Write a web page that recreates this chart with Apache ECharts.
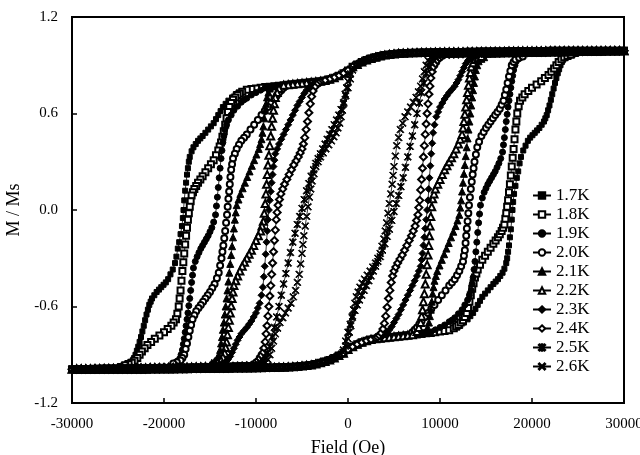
<!DOCTYPE html>
<html>
<head>
<meta charset="utf-8">
<script src="https://cdn.jsdelivr.net/npm/echarts@6/dist/echarts.min.js"></script>
<style>
  html, body { margin: 0; padding: 0; background: #fff; }
  #chart { width: 640px; height: 455px; }
</style>
</head>
<body>
<div id="chart"></div>
<script>
// temperatures shown in the legend
var temps = ["1.7K", "1.8K", "1.9K", "2.0K", "2.1K", "2.2K", "2.3K", "2.4K", "2.5K", "2.6K"];

// descending branch, shared part near positive saturation  [field Oe, M/Ms]
var descTop = [
  [30000, 0.99], [29500, 0.99], [29000, 0.99], [28500, 0.99], [28000, 0.99], [27500, 0.99],
  [27000, 0.99], [26500, 0.99], [26000, 0.99], [25500, 0.99], [25000, 0.99], [24500, 0.99],
  [24000, 0.99], [23500, 0.99], [23000, 0.99], [22500, 0.99], [22000, 0.99], [21500, 0.989],
  [21000, 0.989], [20500, 0.989], [20000, 0.988], [19500, 0.988], [19000, 0.988], [18500, 0.987],
  [18000, 0.987], [17500, 0.987], [17000, 0.986], [16500, 0.986], [16000, 0.986], [15500, 0.985],
  [15000, 0.985], [14500, 0.985], [14000, 0.984], [13500, 0.984], [13000, 0.984], [12500, 0.983],
  [12000, 0.983], [11500, 0.983], [11000, 0.982], [10500, 0.982], [10000, 0.981], [9500, 0.981],
  [9000, 0.98], [8500, 0.98], [8000, 0.979], [7500, 0.978], [7000, 0.977], [6500, 0.976],
  [6000, 0.975], [5500, 0.973], [5000, 0.97], [4500, 0.967], [4000, 0.963], [3500, 0.957],
  [3000, 0.95], [2500, 0.942], [2000, 0.932], [1500, 0.92], [1000, 0.905]
];

// shared step through zero field (1.7K - 2.4K)
var descMid = [
  [500, 0.89], [0, 0.868], [-500, 0.85], [-1000, 0.835], [-1500, 0.823], [-2000, 0.813], [-2500, 0.805]
];

// shared plateau before each curve drops
var descPlat = [
  [-3000, 0.8], [-3500, 0.797], [-4000, 0.794], [-4500, 0.791], [-5000, 0.788], [-5500, 0.785],
  [-6000, 0.782], [-6500, 0.779], [-7000, 0.776], [-7500, 0.773], [-8000, 0.77], [-8500, 0.767],
  [-9000, 0.764], [-9500, 0.76], [-10000, 0.756], [-10500, 0.752], [-11000, 0.747]
];

// shared tail near negative saturation
var descBottom = [
  [-9500, -0.962], [-10000, -0.965], [-10500, -0.967], [-11000, -0.968], [-11500, -0.969],
  [-12000, -0.97], [-12500, -0.971], [-13000, -0.972], [-13500, -0.972], [-14000, -0.973],
  [-14500, -0.974], [-15000, -0.974], [-15500, -0.975], [-16000, -0.976], [-16500, -0.976],
  [-17000, -0.977], [-17500, -0.977], [-18000, -0.978], [-18500, -0.978], [-19000, -0.979],
  [-19500, -0.979], [-20000, -0.98], [-20500, -0.98], [-21000, -0.981], [-21500, -0.981],
  [-22000, -0.982], [-22500, -0.982], [-23000, -0.983], [-23500, -0.983], [-24000, -0.984],
  [-24500, -0.984], [-25000, -0.985], [-25500, -0.985], [-26000, -0.986], [-26500, -0.986],
  [-27000, -0.987], [-27500, -0.987], [-28000, -0.988], [-28500, -0.988], [-29000, -0.989],
  [-29500, -0.989], [-30000, -0.99]
];

// own part of each descending branch
var own17 = [
  [-11500, 0.74], [-11900, 0.73], [-12200, 0.72], [-12600, 0.7], [-13000, 0.68], [-13300, 0.66],
  [-13600, 0.64], [-13850, 0.615], [-14100, 0.59], [-14350, 0.565], [-14600, 0.54], [-14900, 0.52],
  [-15200, 0.5], [-15500, 0.48], [-15800, 0.46], [-16050, 0.445], [-16300, 0.43], [-16550, 0.41],
  [-16800, 0.39], [-17000, 0.365], [-17200, 0.33], [-17300, 0.3], [-17400, 0.26], [-17500, 0.22],
  [-17600, 0.17], [-17700, 0.12], [-17800, 0.06], [-17880, 0.0], [-17950, -0.05], [-18050, -0.1],
  [-18200, -0.15], [-18350, -0.2], [-18500, -0.24], [-18650, -0.29], [-18800, -0.33], [-19050, -0.37],
  [-19300, -0.4], [-19550, -0.43], [-19800, -0.45], [-20050, -0.465], [-20300, -0.48], [-20550, -0.495],
  [-20800, -0.51], [-21050, -0.53], [-21300, -0.55], [-21450, -0.57], [-21600, -0.59], [-21750, -0.62],
  [-21900, -0.65], [-22050, -0.685], [-22200, -0.72], [-22350, -0.755], [-22500, -0.79], [-22650, -0.82],
  [-22800, -0.85], [-22950, -0.875], [-23100, -0.9], [-23250, -0.92], [-23400, -0.935], [-23700, -0.947],
  [-24000, -0.955], [-24400, -0.963], [-24800, -0.97]
];
var own18 = [
  [-11500, 0.735], [-11750, 0.725], [-12000, 0.715], [-12250, 0.7], [-12500, 0.685], [-12700, 0.665],
  [-12900, 0.64], [-13050, 0.61], [-13200, 0.57], [-13350, 0.53], [-13500, 0.49], [-13650, 0.455],
  [-13800, 0.42], [-13950, 0.395], [-14100, 0.37], [-14350, 0.34], [-14600, 0.31], [-14900, 0.285],
  [-15200, 0.26], [-15500, 0.235], [-15800, 0.21], [-16050, 0.19], [-16300, 0.17], [-16500, 0.15],
  [-16700, 0.13], [-16850, 0.11], [-17000, 0.09], [-17100, 0.055], [-17200, 0.02], [-17300, -0.02],
  [-17400, -0.06], [-17500, -0.11], [-17600, -0.16], [-17700, -0.215], [-17800, -0.27], [-17900, -0.325],
  [-18000, -0.38], [-18100, -0.44], [-18200, -0.5], [-18300, -0.55], [-18400, -0.6], [-18550, -0.645],
  [-18700, -0.68], [-18950, -0.7], [-19200, -0.72], [-19600, -0.74], [-20000, -0.76], [-20500, -0.78],
  [-21000, -0.8], [-21400, -0.82], [-21800, -0.84], [-22100, -0.86], [-22400, -0.88], [-22650, -0.9],
  [-22900, -0.92], [-23200, -0.937], [-23500, -0.95], [-23850, -0.958], [-24200, -0.965]
];
var own19 = [
  [-9000, 0.76], [-9500, 0.745], [-10000, 0.73], [-10500, 0.715], [-11000, 0.695], [-11300, 0.685],
  [-11600, 0.67], [-12000, 0.645], [-12400, 0.62], [-12700, 0.59], [-13000, 0.56], [-13200, 0.53],
  [-13400, 0.5], [-13500, 0.46], [-13600, 0.42], [-13700, 0.37], [-13800, 0.32], [-13900, 0.26],
  [-14000, 0.2], [-14100, 0.14], [-14200, 0.08], [-14300, 0.025], [-14400, -0.03], [-14600, -0.075],
  [-14800, -0.11], [-15000, -0.135], [-15200, -0.16], [-15400, -0.18], [-15600, -0.2], [-15800, -0.22],
  [-16000, -0.24], [-16200, -0.265], [-16400, -0.29], [-16600, -0.32], [-16800, -0.36], [-16900, -0.405],
  [-17000, -0.45], [-17100, -0.5], [-17200, -0.55], [-17300, -0.595], [-17400, -0.64], [-17500, -0.68],
  [-17600, -0.72], [-17700, -0.76], [-17800, -0.8], [-17900, -0.835], [-18000, -0.87], [-18150, -0.9],
  [-18300, -0.925], [-18550, -0.94], [-18800, -0.95]
];
var own20 = [
  [-7000, 0.76], [-7250, 0.745], [-7500, 0.73], [-7750, 0.71], [-8000, 0.69], [-8350, 0.665],
  [-8700, 0.64], [-9050, 0.615], [-9400, 0.59], [-9800, 0.56], [-10200, 0.53], [-10600, 0.5],
  [-11000, 0.47], [-11300, 0.45], [-11600, 0.43], [-11850, 0.405], [-12100, 0.38], [-12300, 0.35],
  [-12500, 0.32], [-12600, 0.285], [-12700, 0.25], [-12780, 0.205], [-12850, 0.16], [-12920, 0.115],
  [-13000, 0.07], [-13080, 0.02], [-13150, -0.03], [-13250, -0.08], [-13350, -0.13], [-13450, -0.175],
  [-13550, -0.22], [-13650, -0.26], [-13750, -0.3], [-13900, -0.345], [-14050, -0.39], [-14250, -0.425],
  [-14500, -0.46], [-14750, -0.485], [-15000, -0.51], [-15250, -0.53], [-15500, -0.55], [-15750, -0.57],
  [-16000, -0.59], [-16250, -0.61], [-16500, -0.63], [-16700, -0.655], [-16900, -0.68], [-17050, -0.715],
  [-17200, -0.75], [-17350, -0.79], [-17500, -0.83], [-17650, -0.865], [-17800, -0.9], [-18000, -0.92],
  [-18200, -0.935], [-18600, -0.947], [-19000, -0.955]
];
var own21 = [
  [-8500, 0.755], [-8650, 0.73], [-8800, 0.7], [-8900, 0.66], [-9000, 0.62], [-9100, 0.57],
  [-9200, 0.52], [-9300, 0.48], [-9400, 0.44], [-9550, 0.41], [-9700, 0.38], [-9950, 0.345],
  [-10200, 0.31], [-10450, 0.275], [-10700, 0.24], [-10950, 0.205], [-11200, 0.17], [-11450, 0.135],
  [-11700, 0.1], [-11900, 0.065], [-12100, 0.03], [-12200, -0.015], [-12300, -0.06], [-12400, -0.115],
  [-12500, -0.17], [-12600, -0.225], [-12700, -0.28], [-12800, -0.335], [-12900, -0.39], [-13000, -0.445],
  [-13100, -0.5], [-13200, -0.55], [-13300, -0.6], [-13400, -0.65], [-13500, -0.7], [-13600, -0.745],
  [-13700, -0.79], [-13800, -0.83], [-13900, -0.87], [-14050, -0.9], [-14200, -0.925], [-14500, -0.94],
  [-14800, -0.95]
];
var own22 = [
  [-7500, 0.755], [-7700, 0.73], [-7900, 0.7], [-8000, 0.66], [-8100, 0.62], [-8200, 0.57],
  [-8300, 0.52], [-8400, 0.46], [-8500, 0.4], [-8600, 0.34], [-8700, 0.28], [-8780, 0.22],
  [-8850, 0.16], [-8920, 0.1], [-9000, 0.04], [-9100, -0.02], [-9200, -0.07], [-9350, -0.1],
  [-9500, -0.13], [-9750, -0.16], [-10000, -0.19], [-10250, -0.22], [-10500, -0.25], [-10750, -0.275],
  [-11000, -0.3], [-11250, -0.325], [-11500, -0.35], [-11750, -0.38], [-12000, -0.41], [-12200, -0.44],
  [-12400, -0.47], [-12500, -0.51], [-12600, -0.55], [-12700, -0.595], [-12800, -0.64], [-12900, -0.685],
  [-13000, -0.73], [-13100, -0.775], [-13200, -0.82], [-13300, -0.855], [-13400, -0.89], [-13600, -0.915],
  [-13800, -0.935], [-14150, -0.947], [-14500, -0.955]
];
var own23 = [
  [-3500, 0.79], [-3750, 0.783], [-4000, 0.775], [-4250, 0.762], [-4500, 0.745], [-4750, 0.725],
  [-5000, 0.7], [-5250, 0.675], [-5500, 0.65], [-5750, 0.62], [-6000, 0.59], [-6250, 0.56],
  [-6500, 0.53], [-6750, 0.5], [-7000, 0.47], [-7250, 0.44], [-7500, 0.41], [-7700, 0.38],
  [-7900, 0.35], [-8000, 0.31], [-8100, 0.27], [-8200, 0.22], [-8300, 0.17], [-8400, 0.115],
  [-8500, 0.06], [-8600, 0.0], [-8700, -0.06], [-8780, -0.13], [-8850, -0.2], [-8950, -0.275],
  [-9050, -0.35], [-9150, -0.415], [-9250, -0.48], [-9400, -0.53], [-9600, -0.58], [-9800, -0.61],
  [-10000, -0.64], [-10250, -0.665], [-10500, -0.69], [-10750, -0.71], [-11000, -0.73], [-11300, -0.75],
  [-11600, -0.77], [-11800, -0.79], [-12000, -0.81], [-12200, -0.835], [-12400, -0.86], [-12600, -0.885],
  [-12800, -0.91], [-13050, -0.93], [-13300, -0.945], [-13650, -0.953], [-14000, -0.96]
];
var own24 = [
  [-3000, 0.795], [-3200, 0.79], [-3400, 0.78], [-3600, 0.765], [-3800, 0.74], [-3950, 0.705],
  [-4100, 0.66], [-4250, 0.605], [-4400, 0.55], [-4550, 0.5], [-4700, 0.45], [-4850, 0.41],
  [-5000, 0.38], [-5200, 0.355], [-5400, 0.33], [-5650, 0.305], [-5900, 0.28], [-6150, 0.25],
  [-6400, 0.22], [-6650, 0.19], [-6900, 0.16], [-7100, 0.13], [-7300, 0.1], [-7450, 0.065],
  [-7600, 0.03], [-7700, -0.015], [-7800, -0.06], [-7900, -0.125], [-8000, -0.19], [-8100, -0.26],
  [-8200, -0.33], [-8300, -0.4], [-8400, -0.47], [-8500, -0.535], [-8600, -0.6], [-8700, -0.66],
  [-8800, -0.72], [-8900, -0.77], [-9000, -0.82], [-9150, -0.86], [-9300, -0.89], [-9500, -0.91],
  [-9700, -0.93], [-9950, -0.945], [-10200, -0.955]
];
var own25 = [
  [500, 0.87], [250, 0.815], [0, 0.76], [-250, 0.71], [-500, 0.66], [-750, 0.625],
  [-1000, 0.59], [-1250, 0.56], [-1500, 0.53], [-1750, 0.5], [-2000, 0.47], [-2250, 0.44],
  [-2500, 0.41], [-2750, 0.38], [-3000, 0.35], [-3250, 0.32], [-3500, 0.29], [-3750, 0.25],
  [-4000, 0.21], [-4250, 0.165], [-4500, 0.12], [-4750, 0.065], [-5000, 0.01], [-5250, -0.04],
  [-5500, -0.09], [-5750, -0.145], [-6000, -0.2], [-6250, -0.265], [-6500, -0.33], [-6750, -0.395],
  [-7000, -0.46], [-7250, -0.53], [-7500, -0.6], [-7750, -0.665], [-8000, -0.73], [-8250, -0.79],
  [-8500, -0.85], [-8750, -0.89], [-9000, -0.92], [-9250, -0.937], [-9500, -0.95]
];
var own26 = [
  [500, 0.885], [250, 0.845], [0, 0.8], [-150, 0.76], [-300, 0.72], [-450, 0.67],
  [-600, 0.62], [-750, 0.58], [-900, 0.54], [-1100, 0.51], [-1300, 0.48], [-1550, 0.455],
  [-1800, 0.43], [-2100, 0.405], [-2400, 0.38], [-2700, 0.355], [-3000, 0.33], [-3250, 0.3],
  [-3500, 0.27], [-3700, 0.225], [-3900, 0.18], [-4050, 0.13], [-4200, 0.08], [-4350, 0.02],
  [-4500, -0.04], [-4650, -0.1], [-4800, -0.16], [-4900, -0.215], [-5000, -0.27], [-5150, -0.335],
  [-5300, -0.4], [-5500, -0.45], [-5700, -0.5], [-5950, -0.54], [-6200, -0.58], [-6500, -0.61],
  [-6800, -0.64], [-7100, -0.67], [-7400, -0.7], [-7650, -0.735], [-7900, -0.77], [-8100, -0.815],
  [-8300, -0.86], [-8500, -0.9], [-8700, -0.93], [-8950, -0.948], [-9200, -0.96]
];

var ownBranches = [own17, own18, own19, own20, own21, own22, own23, own24, own25, own26];

var asteriskPath = "path://M0,1L1,0L5,4L9,0L10,1L6,5L10,9L9,10L5,6L1,10L0,9L4,5ZM4.4,0L5.6,0L5.6,10L4.4,10Z";
var crossPath = "path://M0,1L1,0L5,4L9,0L10,1L6,5L10,9L9,10L5,6L1,10L0,9L4,5Z";
var symbols = ["rect", "emptyRect", "circle", "emptyCircle", "triangle", "emptyTriangle",
  "diamond", "emptyDiamond", asteriskPath, crossPath];
var symbolSizes = [5, 6, 6, 6, 7, 7, 7, 7, 7, 7];

// whole loop: descending branch, then ascending branch as its point reflection
function buildLoop(own, useMid) {
  var start = own[0][0];
  var end = own[own.length - 1][0];
  var desc = descTop.slice();
  if (useMid) {
    desc = desc.concat(descMid, descPlat.filter(function (p) { return p[0] > start; }));
  }
  desc = desc.concat(own, descBottom.filter(function (p) { return p[0] < end; }));
  var asc = desc.map(function (p) { return [-p[0], -p[1]]; });
  return desc.concat(asc.slice(1));
}

var series = [];
for (var i = 0; i < temps.length; i++) {
  series.push({
    name: temps[i],
    type: "line",
    data: buildLoop(ownBranches[i], i < 8),
    symbol: symbols[i],
    symbolSize: symbolSizes[i],
    showAllSymbol: true,
    lineStyle: { color: "#000", width: 0.8 },
    itemStyle: { color: "#000", borderColor: "#000", borderWidth: 1 },
    emphasis: { disabled: true },
    z: 2 + i
  });
}

var font = "Liberation Serif";
var myChart = echarts.init(document.getElementById("chart"));
var option = {
  animation: false,
  backgroundColor: "#fff",
  textStyle: { fontFamily: font, color: "#000" },
  grid: {
    left: 72,
    right: 16,
    top: 17,
    bottom: 52,
    outerBoundsMode: "none",
    containLabel: false,
    show: true,
    borderColor: "#000",
    borderWidth: 2
  },
  legend: {
    orient: "vertical",
    left: 527,
    top: 181,
    itemWidth: 18,
    itemHeight: 8,
    itemGap: 0,
    textStyle: { fontFamily: font, fontSize: 17, color: "#000", lineHeight: 19 },
    data: temps
  },
  xAxis: {
    type: "value",
    min: -30000,
    max: 30000,
    interval: 10000,
    name: "Field (Oe)",
    nameLocation: "middle",
    nameGap: 36,
    nameTextStyle: { fontFamily: font, fontSize: 18, color: "#000" },
    axisLine: { onZero: false, lineStyle: { color: "#000", width: 2 } },
    axisTick: { inside: true, length: 5, lineStyle: { color: "#000", width: 1.5 } },
    axisLabel: {
      fontFamily: font,
      fontSize: 15,
      color: "#000",
      margin: 14,
      formatter: function (v) { return String(v); }
    },
    splitLine: { show: false }
  },
  yAxis: {
    type: "value",
    min: -1.2,
    max: 1.2,
    interval: 0.6,
    name: "M / Ms",
    nameLocation: "middle",
    nameGap: 41,
    nameTextStyle: { fontFamily: font, fontSize: 18, color: "#000" },
    axisLine: { onZero: false, lineStyle: { color: "#000", width: 2 } },
    axisTick: { inside: true, length: 5, lineStyle: { color: "#000", width: 1.5 } },
    axisLabel: {
      fontFamily: font,
      fontSize: 15,
      color: "#000",
      margin: 14,
      formatter: function (v) { return (Math.abs(v) < 1e-9 ? 0 : v).toFixed(1); }
    },
    splitLine: { show: false }
  },
  series: series
};
myChart.setOption(option);
</script>
</body>
</html>
